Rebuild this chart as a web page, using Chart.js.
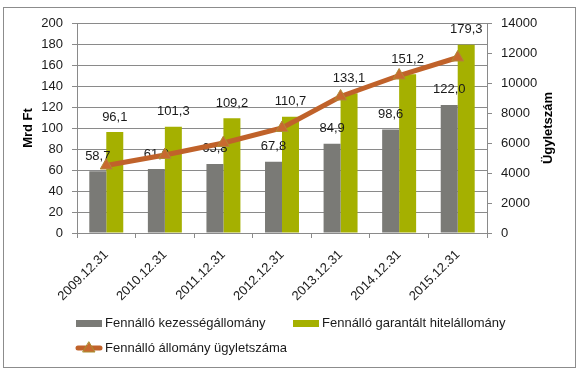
<!DOCTYPE html>
<html>
<head>
<meta charset="utf-8">
<script src="https://cdn.jsdelivr.net/npm/chart.js@4"></script>
<style>
  body { margin: 0; background: #fff; }
  canvas { display: block; }
</style>
</head>
<body>
<canvas id="chart" width="581" height="376"></canvas>
<script>
// Data
const categories = ['2009.12.31', '2010.12.31', '2011.12.31', '2012.12.31', '2013.12.31', '2014.12.31', '2015.12.31'];
const guarantees = [58.7, 61.0, 65.8, 67.8, 84.9, 98.6, 122.0];
const guaranteedLoans = [96.1, 101.3, 109.2, 110.7, 133.1, 151.2, 179.3];
const dealCount = [4500, 5200, 6000, 7000, 9100, 10500, 11700];
const seriesNames = ['Fennálló kezességállomány', 'Fennálló garantált hitelállomány', 'Fennálló állomány ügyletszáma'];

const FONT = "'Liberation Sans', Arial, sans-serif";
const GRAY = '#7a7a76';
const GREEN = '#a5b000';
const ORANGE = '#c0622a';
const GRID = '#8a8a8a';

function fmt(v) {
    return v.toFixed(1).replace('.', ',');
}

// Frame, bar labels, axis titles and legend
const extras = {
    id: 'extras',
    beforeDraw(chart) {
        const ctx = chart.ctx;
        ctx.save();
        ctx.fillStyle = '#fff';
        ctx.fillRect(0, 0, chart.width, chart.height);
        ctx.strokeStyle = '#8c8c8c';
        ctx.lineWidth = 1;
        ctx.strokeRect(3.5, 7.5, 572, 360);
        ctx.restore();
    },
    beforeDatasetDraw(chart, args) {
        // bar value labels go under the line but over the bars
        if (args.index !== 2) return;
        const ctx = chart.ctx;
        ctx.save();
        ctx.font = '13px ' + FONT;
        ctx.fillStyle = '#1a1a1a';
        ctx.textAlign = 'center';
        ctx.textBaseline = 'middle';
        [0, 1].forEach(i => {
            const meta = chart.getDatasetMeta(i);
            meta.data.forEach((bar, j) => {
                ctx.fillText(fmt(chart.data.datasets[i].data[j]), bar.x, bar.y - 15);
            });
        });
        ctx.restore();
    },
    afterDraw(chart) {
        const ctx = chart.ctx;
        const area = chart.chartArea;
        const midY = (area.top + area.bottom) / 2;
        ctx.save();
        ctx.fillStyle = '#000';
        ctx.font = 'bold 13px ' + FONT;
        ctx.textAlign = 'center';
        ctx.textBaseline = 'middle';
        ctx.translate(28, midY);
        ctx.rotate(-Math.PI / 2);
        ctx.fillText('Mrd Ft', 0, 0);
        ctx.restore();

        ctx.save();
        ctx.fillStyle = '#000';
        ctx.font = 'bold 13px ' + FONT;
        ctx.textAlign = 'center';
        ctx.textBaseline = 'middle';
        ctx.translate(548, midY);
        ctx.rotate(-Math.PI / 2);
        ctx.fillText('Ügyletszám', 0, 0);
        ctx.restore();

        // legend
        ctx.save();
        ctx.font = '13px ' + FONT;
        ctx.fillStyle = '#1a1a1a';
        ctx.textBaseline = 'middle';
        const items = [
            { x: 76, y: 323.5, kind: 'bar', color: GRAY, text: seriesNames[0] },
            { x: 293, y: 323.5, kind: 'bar', color: GREEN, text: seriesNames[1] },
            { x: 76, y: 348, kind: 'line', color: ORANGE, text: seriesNames[2] }
        ];
        items.forEach(it => {
            if (it.kind === 'bar') {
                ctx.fillStyle = it.color;
                ctx.fillRect(it.x, it.y - 3.5, 26, 7);
            } else {
                ctx.strokeStyle = it.color;
                ctx.lineWidth = 5;
                ctx.lineCap = 'round';
                ctx.beginPath();
                ctx.moveTo(it.x + 2, it.y);
                ctx.lineTo(it.x + 24, it.y);
                ctx.stroke();
                ctx.fillStyle = '#c8692f';
                ctx.strokeStyle = '#a89030';
                ctx.lineWidth = 1;
                ctx.beginPath();
                ctx.moveTo(it.x + 13, it.y - 6);
                ctx.lineTo(it.x + 19, it.y + 4);
                ctx.lineTo(it.x + 7, it.y + 4);
                ctx.closePath();
                ctx.fill();
                ctx.stroke();
            }
            ctx.fillStyle = '#1a1a1a';
            ctx.fillText(it.text, it.x + 29, it.y);
        });
        ctx.restore();
    }
};

new Chart(document.getElementById('chart'), {
    data: {
        labels: categories,
        datasets: [
            {
                type: 'bar',
                label: seriesNames[0],
                data: guarantees,
                backgroundColor: GRAY,
                yAxisID: 'y',
                order: 1,
            },
            {
                type: 'bar',
                label: seriesNames[1],
                data: guaranteedLoans,
                backgroundColor: GREEN,
                yAxisID: 'y',
                order: 1,
            },
            {
                type: 'line',
                label: seriesNames[2],
                data: dealCount,
                borderColor: ORANGE,
                borderWidth: 5,
                pointStyle: 'triangle',
                pointRadius: 7,
                pointBackgroundColor: '#c8692f',
                pointBorderColor: '#b08a36',
                pointBorderWidth: 1,
                tension: 0,
                yAxisID: 'y1',
                order: 0,
            },
        ],
    },
    options: {
        responsive: false,
        animation: false,
        devicePixelRatio: 1,
        layout: { padding: { top: 23, left: 0, right: 0, bottom: 0 } },
        datasets: {
            bar: { barPercentage: 1, categoryPercentage: 0.58 },
        },
        scales: {
            x: {
                offset: true,
                grid: { offset: true, drawOnChartArea: false, color: GRID, tickLength: 5 },
                border: { color: GRID },
                ticks: {
                    color: '#1a1a1a',
                    font: { family: FONT, size: 13 },
                    minRotation: 45,
                    maxRotation: 45,
                    padding: 9,
                },
                afterFit(scale) { scale.height = 143; },
            },
            y: {
                position: 'left',
                min: 0,
                max: 200,
                ticks: {
                    stepSize: 20,
                    color: '#1a1a1a',
                    font: { family: FONT, size: 13 },
                    padding: 9,
                },
                grid: { color: GRID, tickLength: 5 },
                border: { color: GRID },
                afterFit(scale) { scale.width = 77; },
            },
            y1: {
                position: 'right',
                min: 0,
                max: 14000,
                ticks: {
                    stepSize: 2000,
                    color: '#1a1a1a',
                    font: { family: FONT, size: 13 },
                    padding: 9,
                    callback: v => String(v),
                },
                grid: { drawOnChartArea: false, color: GRID, tickLength: 5 },
                border: { color: GRID },
                afterFit(scale) { scale.width = 94; },
            },
        },
        plugins: {
            legend: { display: false },
            tooltip: { enabled: false },
        },
    },
    plugins: [extras],
});
</script>
</body>
</html>
